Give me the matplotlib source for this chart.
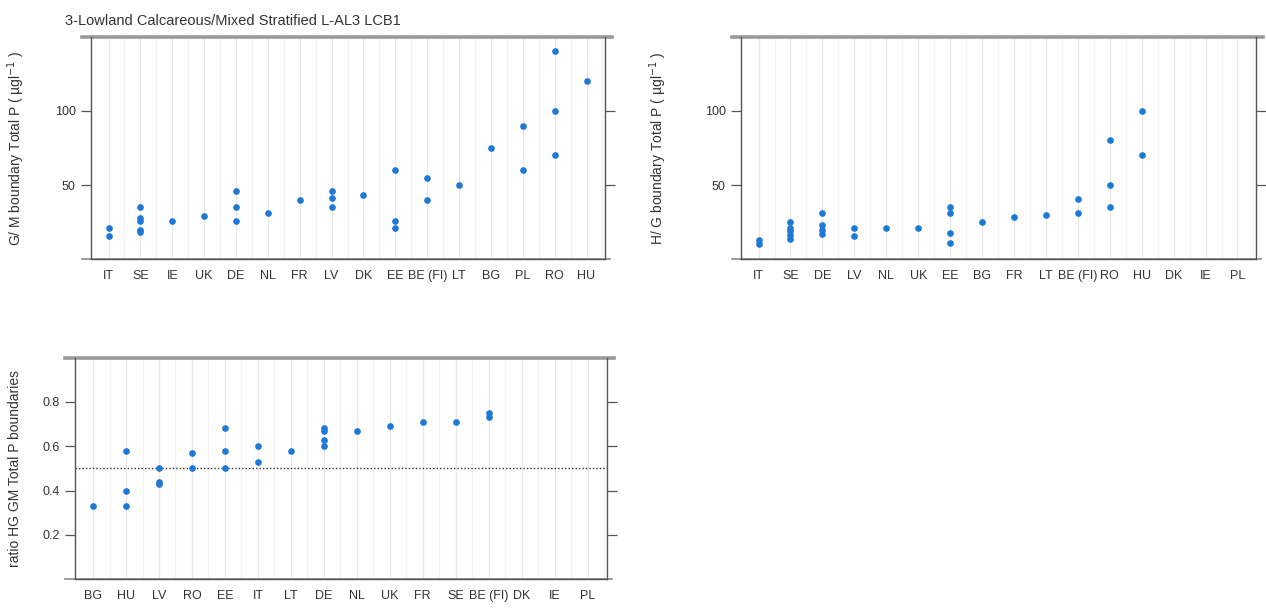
# Lattice-style dot plots of Total P class boundaries by country
import matplotlib.pyplot as plt
from matplotlib.lines import Line2D

plt.rcParams['font.family'] = ['Liberation Sans', 'DejaVu Sans']

title = '3-Lowland Calcareous/Mixed Stratified L-AL3 LCB1'

# G/M boundary, ug/l
gm_countries = ['IT', 'SE', 'IE', 'UK', 'DE', 'NL', 'FR', 'LV', 'DK', 'EE',
                'BE (FI)', 'LT', 'BG', 'PL', 'RO', 'HU']
gm_values = [
    [21, 16],
    [35, 27.5, 26, 20, 18.5],
    [26],
    [29],
    [46, 35, 26],
    [31],
    [40],
    [46, 41, 35],
    [43],
    [60, 26, 21],
    [55, 40],
    [50],
    [75],
    [90, 60],
    [140, 100, 70],
    [120],
]

# H/G boundary, ug/l
hg_countries = ['IT', 'SE', 'DE', 'LV', 'NL', 'UK', 'EE', 'BG', 'FR', 'LT',
                'BE (FI)', 'RO', 'HU', 'DK', 'IE', 'PL']
hg_values = [
    [13, 10],
    [25, 21, 19, 16.5, 14],
    [31, 23, 20, 17],
    [21, 16],
    [21],
    [21],
    [35, 31, 18, 11],
    [25],
    [28.5],
    [29.5],
    [40.5, 31],
    [80, 50, 35],
    [100, 70],
    [],
    [],
    [],
]

# ratio H/G : G/M
ratio_countries = ['BG', 'HU', 'LV', 'RO', 'EE', 'IT', 'LT', 'DE', 'NL', 'UK',
                   'FR', 'SE', 'BE (FI)', 'DK', 'IE', 'PL']
ratio_values = [
    [0.33],
    [0.58, 0.40, 0.33],
    [0.50, 0.44, 0.43],
    [0.57, 0.50],
    [0.68, 0.58, 0.50],
    [0.60, 0.53],
    [0.58],
    [0.68, 0.67, 0.63, 0.60],
    [0.67],
    [0.69],
    [0.71],
    [0.71],
    [0.75, 0.73],
    [],
    [],
    [],
]

dot_color = '#1f78d6'
frame_color = '#555555'


def dot_panel(ax, countries, values, ylim, yticks, ylabel, label_x):
    n = len(countries)
    xs = list(range(1, n + 1))
    # faint vertical guide lines, at each level and in between
    for x in xs:
        ax.axvline(x, color='#e8e8e8', lw=0.9, zorder=0)
        ax.axvline(x + 0.5, color='#f3f3f3', lw=0.9, zorder=0)
    for x, vals in zip(xs, values):
        ax.plot([x] * len(vals), vals, 'o', color=dot_color, ms=3.8,
                mec=dot_color, zorder=3, clip_on=False)
    ax.set_xlim(0.45, n + 0.58)
    ax.set_ylim(*ylim)
    ax.set_xticks(xs)
    ax.set_xticklabels(countries, fontsize=9, color='#333333')
    ax.set_yticks(yticks)
    ax.tick_params(axis='x', length=0, pad=8)
    ax.tick_params(axis='y', direction='out', length=7, width=0.9,
                   color=frame_color, labelsize=9, labelcolor='#333333',
                   right=True, left=True, labelright=False, pad=4)
    for side in ['left', 'right', 'bottom']:
        ax.spines[side].set_color(frame_color)
        ax.spines[side].set_linewidth(1.0)
    ax.spines['top'].set_visible(False)
    # thick grey top rule and bottom rule running a little past the box
    ax.add_line(Line2D([-0.018, 1.014], [1, 1], transform=ax.transAxes,
                       color='#9a9a9a', lw=2.6, clip_on=False))
    ax.add_line(Line2D([-0.018, 1.01], [0, 0], transform=ax.transAxes,
                       color='#8a8a8a', lw=1.2, clip_on=False))
    ax.set_ylabel(ylabel, fontsize=10, color='#333333')
    ax.yaxis.set_label_coords(label_x, 0.5)


fig = plt.figure(figsize=(12.66, 6.08), dpi=100)

ax1 = fig.add_axes([0.0719, 0.5735, 0.406, 0.365])
dot_panel(ax1, gm_countries, gm_values, (0, 149.4), [50, 100],
          'G/ M boundary Total P ( µgl$^{-1}$ )', -0.125)

ax2 = fig.add_axes([0.5853, 0.5735, 0.4068, 0.365])
dot_panel(ax2, hg_countries, hg_values, (0, 149.4), [50, 100],
          'H/ G boundary Total P ( µgl$^{-1}$ )', -0.14)

ax3 = fig.add_axes([0.0592, 0.0472, 0.42, 0.3648])
dot_panel(ax3, ratio_countries, ratio_values, (0, 1.0), [0.2, 0.4, 0.6, 0.8],
          'ratio HG GM Total P boundaries', -0.1)
ax3.axhline(0.5, color='#333333', lw=1.0, ls=(0, (1, 1.5)), zorder=2)

fig.text(0.0514, 0.965, title, fontsize=10.5, color='#333333', ha='left',
         va='center')

fig.savefig('out.png', dpi=100)
